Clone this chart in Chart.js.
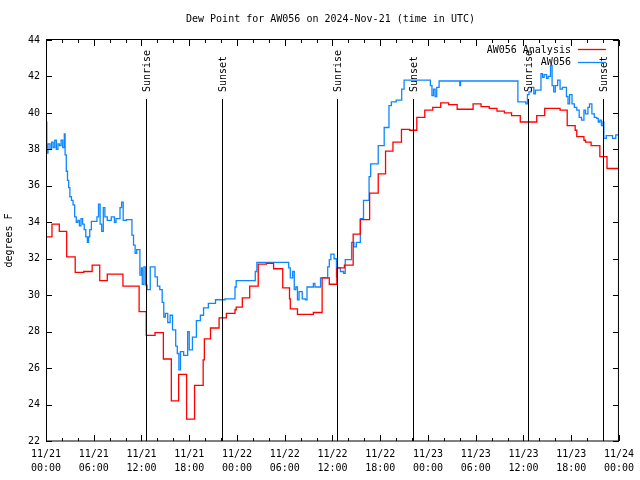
<!DOCTYPE html>
<html>
<head>
  <meta charset="utf-8" />
  <title>Dew Point for AW056</title>
  <script src="https://cdn.jsdelivr.net/npm/chart.js"></script>
  <style>
    body { margin: 0; background: #fff; }
  </style>
</head>
<body>
  <canvas id="dewChart" width="640" height="480"></canvas>

  <script>
  // hours since 2024-11-21 00:00 UTC, value holds until the next point
  const analysisHours = [0, 0.75, 1.67, 2.6, 3.67, 4.75, 5.8, 6.75, 7.7, 9.67,
    11.7, 12.6, 13.7, 14.75, 15.75, 16.67, 17.67, 18.67, 19.75, 19.9,
    20.67, 21.75, 22.67, 23.75, 23.9, 24.67, 25.6, 26.67, 27.7, 28.6,
    29.75, 30.6, 30.7, 31.6, 33.6, 34.7, 35.6, 36.55, 37.5, 38.6,
    39.5, 40.67, 41.75, 42.67, 43.6, 44.67, 45.7, 46.6, 47.6, 48.6,
    49.6, 50.6, 51.67, 53.67, 54.67, 55.7, 56.67, 57.6, 58.5, 59.6,
    61.67, 62.67, 64.6, 65.5, 66.5, 66.7, 67.6, 67.8, 68.5, 69.6,
    70.5, 72];
  const analysisDew = [33.2, 33.9, 33.5, 32.1, 31.25, 31.3, 31.65, 30.8, 31.15, 30.5,
    29.1, 27.8, 27.95, 26.5, 24.2, 25.65, 23.2, 25.05, 26.45, 27.6,
    28.2, 28.75, 29.0, 29.2, 29.35, 29.85, 30.5, 31.7, 31.75, 31.45,
    30.4, 29.8, 29.25, 28.95, 29.05, 30.95, 30.6, 31.5, 31.65, 33.35,
    34.15, 35.6, 36.65, 37.9, 38.4, 39.1, 39.05, 39.75, 40.15, 40.3,
    40.55, 40.45, 40.2, 40.5, 40.35, 40.25, 40.1, 40.0, 39.85, 39.5,
    39.85, 40.25, 40.15, 39.3, 39.05, 38.7, 38.5, 38.4, 38.2, 37.6,
    36.95, 36.95];

  const obsHours = [0, 0.1, 0.25, 0.5, 0.7, 0.9, 1.1, 1.3, 1.5, 1.7,
    1.9, 2.1, 2.3, 2.4, 2.55, 2.7, 2.85, 3.0, 3.2, 3.4,
    3.6, 3.8, 4.0, 4.2, 4.4, 4.6, 4.8, 5.0, 5.2, 5.35,
    5.5, 5.7, 6.4, 6.6, 6.8, 7.0, 7.2, 7.4, 7.7, 8.2,
    8.6, 8.8, 9.3, 9.5, 9.7, 10.1, 10.8, 11.0, 11.2, 11.4,
    11.8, 12.0, 12.1, 12.3, 12.5, 12.7, 13.1, 13.7, 14.0, 14.3,
    14.6, 14.8, 15.0, 15.3, 15.6, 15.9, 16.3, 16.5, 16.7, 16.9,
    17.3, 17.8, 18.0, 18.4, 18.9, 19.4, 19.8, 20.4, 21.3, 22.5,
    23.75, 23.9, 26.3, 26.5, 30.5, 30.7, 31.0, 31.2, 31.4, 31.6,
    31.8, 32.2, 32.6, 32.8, 33.6, 33.8, 34.5, 35.4, 35.6, 35.8,
    36.2, 36.5, 36.6, 37.0, 37.4, 37.6, 38.4, 38.7, 39.0, 39.5,
    39.9, 40.6, 40.8, 41.75, 42.5, 43.1, 43.4, 44.0, 44.7, 45.0,
    48.3, 48.5, 48.7, 48.9, 49.1, 49.4, 52.0, 52.1, 59.3, 60.3,
    60.5, 60.7, 61.0, 61.3, 61.5, 62.2, 62.4, 62.6, 62.9, 63.1,
    63.4, 63.6, 63.8, 64.0, 64.3, 64.6, 64.9, 65.4, 65.6, 65.8,
    66.1, 66.4, 66.7, 67.0, 67.3, 67.6, 67.8, 68.1, 68.3, 68.6,
    68.9, 69.2, 69.4, 69.6, 69.8, 70.0, 70.1, 70.4, 71.2, 71.6,
    72];
  const obsDew = [39.5, 37.8, 38.3, 38.0, 38.4, 38.1, 38.5, 38.0, 38.3, 38.2,
    38.5, 38.1, 38.85, 37.7, 36.8, 36.3, 35.9, 35.4, 35.2, 34.95,
    34.3, 34.0, 34.1, 33.8, 34.2, 33.9, 33.6, 33.2, 32.9, 33.2,
    33.6, 34.05, 34.3, 35.0, 33.9, 33.5, 34.8, 34.3, 34.1, 34.3,
    34.0, 34.2, 34.8, 35.1, 34.1, 34.15, 33.3, 32.75, 32.3, 32.5,
    31.1, 31.5, 30.6, 31.55, 30.55, 30.3, 31.55, 31.0, 30.5, 30.3,
    29.6, 28.8, 29.0, 28.5, 28.9, 28.1, 27.2, 26.8, 25.9, 26.9,
    26.7, 28.0, 27.0, 27.7, 28.6, 28.9, 29.3, 29.55, 29.75, 29.8,
    30.45, 30.8, 31.3, 31.8, 31.5, 30.95, 31.3, 30.3, 30.45, 29.75,
    30.2, 29.8, 29.75, 30.45, 30.65, 30.45, 30.95, 31.55, 31.95, 32.25,
    32.0, 31.0, 31.5, 31.3, 31.2, 31.95, 32.9, 32.65, 32.9, 34.2,
    35.2, 36.5, 37.2, 38.2, 39.2, 40.4, 40.6, 40.7, 41.3, 41.8,
    41.5, 40.95, 41.3, 40.9, 41.4, 41.75, 41.5, 41.75, 40.6, 40.5,
    41.0, 41.15, 41.4, 41.05, 41.25, 42.15, 41.95, 42.1, 41.9, 42.0,
    42.6, 41.5, 41.15, 41.5, 41.8, 41.3, 41.4, 40.9, 40.5, 41.0,
    40.5, 40.3, 40.15, 39.75, 39.6, 40.15, 39.95, 40.3, 40.5, 39.95,
    39.75, 39.7, 39.5, 39.6, 39.3, 39.5, 38.6, 38.75, 38.6, 38.8,
    38.8];

  const sunHours = [12.55, 22.17, 36.55, 46.15, 60.55, 70.0];
  const sunLabels = ['Sunrise', 'Sunset', 'Sunrise', 'Sunset', 'Sunrise', 'Sunset'];

  const xTickLabels = [
    ['11/21', '00:00'], ['11/21', '06:00'], ['11/21', '12:00'], ['11/21', '18:00'],
    ['11/22', '00:00'], ['11/22', '06:00'], ['11/22', '12:00'], ['11/22', '18:00'],
    ['11/23', '00:00'], ['11/23', '06:00'], ['11/23', '12:00'], ['11/23', '18:00'],
    ['11/24', '00:00']
  ];

  const seriesNames = ['AW056 Analysis', 'AW056'];
  const seriesColors = ['#ff0000', '#0d87ff'];
  const FONT = '"DejaVu Sans Mono", monospace';

  Chart.defaults.font.family = FONT;
  Chart.defaults.font.size = 10;
  Chart.defaults.color = '#000';

  // frame, inward ticks, sunrise/sunset markers, legend and title drawn gnuplot-style
  const decor = {
    id: 'decor',
    afterDatasetsDraw(chart) {
      const { ctx, chartArea: a, scales: { x } } = chart;
      ctx.save();
      ctx.strokeStyle = '#000';
      ctx.fillStyle = '#000';
      ctx.lineWidth = 1;
      ctx.font = '10px ' + FONT;
      sunHours.forEach((h, i) => {
        const px = Math.round(x.getPixelForValue(h)) + 0.5;
        ctx.beginPath();
        ctx.moveTo(px, a.top + 59);
        ctx.lineTo(px, a.bottom);
        ctx.stroke();
        ctx.save();
        ctx.translate(px + 1, a.top + 52);
        ctx.rotate(-Math.PI / 2);
        ctx.textAlign = 'left';
        ctx.textBaseline = 'middle';
        ctx.fillText(sunLabels[i], 0, 0);
        ctx.restore();
      });
      ctx.restore();
    },
    afterDraw(chart) {
      const { ctx, chartArea: a, scales: { x, y } } = chart;
      ctx.save();
      ctx.strokeStyle = '#000';
      ctx.fillStyle = '#000';
      ctx.lineWidth = 1;
      ctx.beginPath();
      for (let h = x.min; h <= x.max; h += 2) {
        const px = Math.round(x.getPixelForValue(h)) + 0.5;
        const len = h % 6 === 0 ? 6 : 3;
        ctx.moveTo(px, a.bottom); ctx.lineTo(px, a.bottom - len);
        ctx.moveTo(px, a.top); ctx.lineTo(px, a.top + len);
      }
      for (let v = y.min; v <= y.max; v += 2) {
        const py = Math.round(y.getPixelForValue(v)) + 0.5;
        ctx.moveTo(a.left, py); ctx.lineTo(a.left + 6, py);
        ctx.moveTo(a.right, py); ctx.lineTo(a.right - 6, py);
      }
      ctx.stroke();
      ctx.strokeRect(a.left + 0.5, a.top - 0.5, a.right - a.left - 1, a.bottom - a.top + 0.5);

      // legend
      ctx.font = '10px ' + FONT;
      ctx.textAlign = 'right';
      ctx.textBaseline = 'middle';
      seriesNames.forEach((name, i) => {
        const ly = a.top + 10 + i * 12.5;
        ctx.fillStyle = '#000';
        ctx.fillText(name, a.right - 48, ly);
        ctx.strokeStyle = seriesColors[i];
        ctx.lineWidth = 1.3;
        ctx.beginPath();
        ctx.moveTo(a.right - 41, Math.round(ly) - 0.5);
        ctx.lineTo(a.right - 13, Math.round(ly) - 0.5);
        ctx.stroke();
      });

      // title
      ctx.fillStyle = '#000';
      ctx.textAlign = 'center';
      ctx.fillText('Dew Point for AW056 on 2024-Nov-21 (time in UTC)', (a.left + a.right) / 2 - 2, 19);
      ctx.restore();
    }
  };

  const toPoints = (xs, ys) => xs.map((h, i) => ({ x: h, y: ys[i] }));

  new Chart(document.getElementById('dewChart').getContext('2d'), {
    type: 'line',
    data: {
      datasets: [
        {
          label: seriesNames[0],
          data: toPoints(analysisHours, analysisDew),
          borderColor: seriesColors[0],
          borderWidth: 1.3,
          stepped: true,
          pointRadius: 0
        },
        {
          label: seriesNames[1],
          data: toPoints(obsHours, obsDew),
          borderColor: seriesColors[1],
          borderWidth: 1.3,
          stepped: true,
          pointRadius: 0
        }
      ]
    },
    options: {
      responsive: false,
      animation: false,
      devicePixelRatio: 1,
      layout: { padding: { top: 40, right: 18, left: 0, bottom: 0 } },
      plugins: {
        legend: { display: false },
        title: { display: false },
        tooltip: { enabled: false }
      },
      scales: {
        x: {
          type: 'linear',
          min: 0,
          max: 72,
          grid: { display: false, drawTicks: false },
          border: { display: false },
          ticks: {
            stepSize: 6,
            autoSkip: false,
            maxRotation: 0,
            padding: 6,
            font: { size: 10, lineHeight: 1.4 },
            callback: (v, i) => xTickLabels[i]
          },
          afterFit: s => { s.height = 39; }
        },
        y: {
          min: 22,
          max: 44,
          grid: { display: false, drawTicks: false },
          border: { display: false },
          ticks: { stepSize: 2, padding: 6 },
          title: { display: true, text: 'degrees F', padding: { top: 3, bottom: 0 } },
          afterFit: s => { s.width = 46; }
        }
      }
    },
    plugins: [decor]
  });
  </script>
</body>
</html>
